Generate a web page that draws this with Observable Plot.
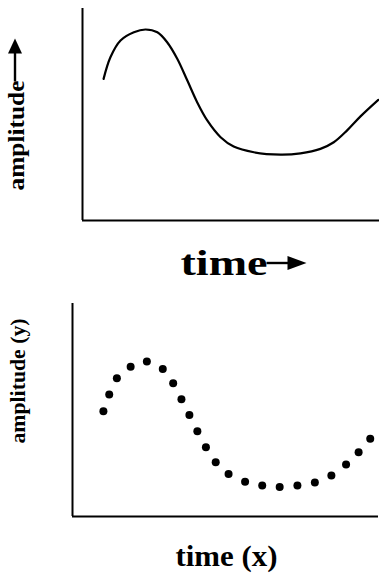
<!DOCTYPE html>
<html><head><meta charset="utf-8">
<script src="https://cdn.jsdelivr.net/npm/d3@7"></script>
<script src="https://cdn.jsdelivr.net/npm/@observablehq/plot@0.6"></script>
<style>body{margin:0;background:#fff} svg{display:block}</style>
</head><body><div id="chart"></div>
<script>
// Top panel: continuous curve
const lineTime = [0.71,0.94,1.28,1.73,2.12,2.52,2.85,3.19,3.53,3.86,4.20,4.65,5.09,5.77,6.67,7.34,8.01,8.46,8.91,9.36,9.96];
const lineAmp  = [6.68,7.70,8.49,8.88,9.01,8.88,8.41,7.63,6.60,5.58,4.72,3.93,3.49,3.22,3.11,3.17,3.38,3.69,4.25,4.91,5.69];
// Bottom panel: sampled points
const dotTime = [1.01,1.20,1.45,1.90,2.43,2.95,3.29,3.56,3.82,4.08,4.36,4.68,5.10,5.64,6.20,6.77,7.35,7.92,8.46,8.94,9.35,9.73];
const dotAmp  = [4.94,5.73,6.49,7.03,7.28,6.92,6.26,5.51,4.76,4.00,3.25,2.55,1.99,1.63,1.46,1.38,1.46,1.60,1.92,2.44,3.02,3.65];
const topYLabel = "amplitude";
const topXLabel = "time";
const botYLabel = "amplitude (y)";
const botXLabel = "time (x)";

const curve = lineTime.map((t, i) => ({t, a: lineAmp[i]}));
const points = dotTime.map((t, i) => ({t, a: dotAmp[i]}));
const font = "'Liberation Serif', 'Times New Roman', serif";

const topPlot = Plot.plot({
  width: 379, height: 290,
  marginLeft: 82, marginRight: 0, marginTop: 8, marginBottom: 70,
  x: {domain: [0, 10], axis: null},
  y: {domain: [0, 10], axis: null},
  style: {background: "white", overflow: "visible"},
  marks: [
    Plot.ruleX([0], {stroke: "black", strokeWidth: 2}),
    Plot.ruleY([0], {stroke: "black", strokeWidth: 2}),
    Plot.line(curve, {x: "t", y: "a", curve: "catmull-rom", stroke: "black", strokeWidth: 2.2}),
    Plot.text([topYLabel], {text: d => d, frameAnchor: "bottom-left", dx: -59, dy: -30, rotate: -90,
      textAnchor: "start", fontSize: 23, fontWeight: "bold", fontFamily: font, fill: "black"}),
    Plot.text([topXLabel], {text: d => d, frameAnchor: "bottom-left", dx: 98, dy: 54,
      textAnchor: "start", fontSize: 36, fontWeight: "bold", fontFamily: font, fill: "black"})
  ]
});

const botPlot = Plot.plot({
  width: 379, height: 284,
  marginLeft: 72, marginRight: 1, marginTop: 13, marginBottom: 58,
  x: {domain: [0, 10], axis: null},
  y: {domain: [0, 10], axis: null},
  style: {background: "white", overflow: "visible"},
  marks: [
    Plot.ruleX([0], {stroke: "black", strokeWidth: 2}),
    Plot.ruleY([0], {stroke: "black", strokeWidth: 2}),
    Plot.dot(points, {x: "t", y: "a", r: 4, fill: "black"}),
    Plot.text([botYLabel], {text: d => d, frameAnchor: "bottom-left", dx: -48, dy: -73, rotate: -90,
      textAnchor: "start", fontSize: 21, fontWeight: "bold", fontFamily: font, fill: "black"}),
    Plot.text([botXLabel], {text: d => d, frameAnchor: "bottom", dx: 1, dy: 49,
      fontSize: 29, fontWeight: "bold", fontFamily: font, fill: "black"})
  ]
});

const root = document.getElementById("chart");
root.appendChild(topPlot);
root.appendChild(botPlot);

const ns = "http://www.w3.org/2000/svg";
function findText(svg, str) {
  return [...svg.querySelectorAll("text")].find(e => e.textContent === str);
}
function fit(el, len) {
  el.setAttribute("textLength", len);
  el.setAttribute("lengthAdjust", "spacingAndGlyphs");
}
function arrow(svg, x1, y1, x2, y2, head, w) {
  const dx = x2 - x1, dy = y2 - y1, L = Math.hypot(dx, dy);
  const ux = dx / L, uy = dy / L;
  const bx = x2 - ux * head, by = y2 - uy * head;
  const line = document.createElementNS(ns, "line");
  line.setAttribute("x1", x1); line.setAttribute("y1", y1);
  line.setAttribute("x2", bx + ux); line.setAttribute("y2", by + uy);
  line.setAttribute("stroke", "black"); line.setAttribute("stroke-width", 2.4);
  svg.appendChild(line);
  const p = document.createElementNS(ns, "polygon");
  p.setAttribute("points", `${x2},${y2} ${bx - uy * w / 2},${by + ux * w / 2} ${bx + uy * w / 2},${by - ux * w / 2}`);
  p.setAttribute("fill", "black");
  svg.appendChild(p);
}

const tY = findText(topPlot, topYLabel); fit(tY, 110);
const tX = findText(topPlot, topXLabel); fit(tX, 87);
const bY = findText(botPlot, botYLabel); fit(bY, 125);
const bX = findText(botPlot, botXLabel); fit(bX, 102);

const sr = topPlot.getBoundingClientRect();
const ry = tY.getBoundingClientRect();
const cx = (ry.left + ry.right) / 2 - sr.left - 1;
const endY = ry.top - sr.top;
arrow(topPlot, cx, endY + 1, cx, endY - 42, 15, 14);
const rx = tX.getBoundingClientRect();
const endX = rx.right - sr.left;
arrow(topPlot, endX - 1, 263, endX + 39, 263, 19, 14);
</script>
</body></html>
